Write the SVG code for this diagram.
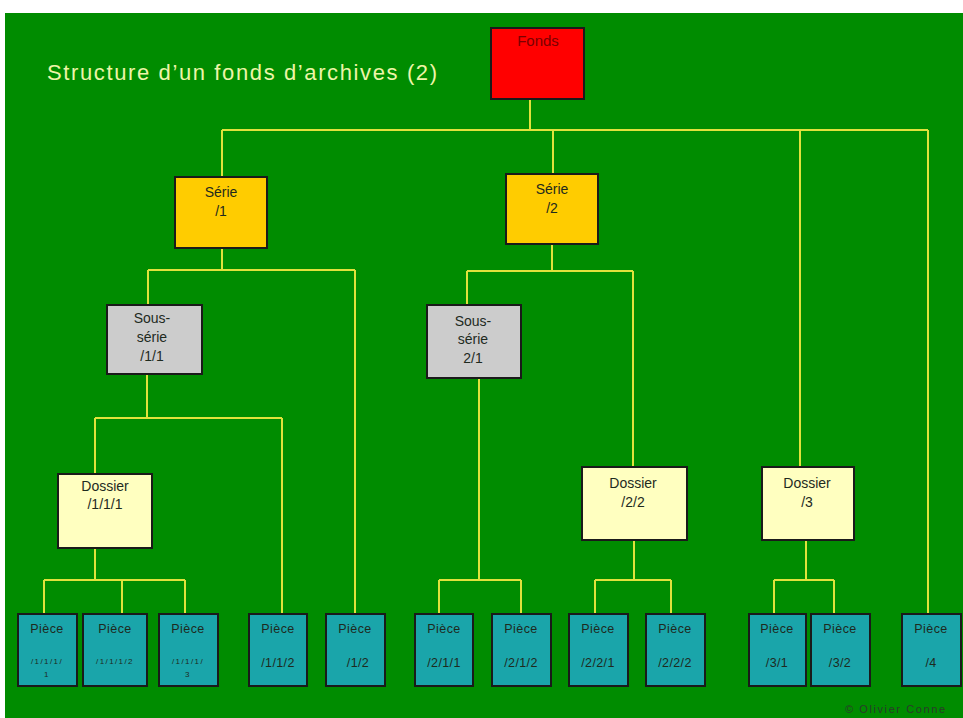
<svg xmlns="http://www.w3.org/2000/svg" width="963" height="718" viewBox="0 0 963 718">
<style>
.t{font-family:"Liberation Sans",Arial,sans-serif;text-anchor:middle;fill:#1e2a1e}
.b{stroke:#1a1a1a;stroke-width:2}
.fonds{fill:#ff0000}
.serie{fill:#ffcc00}
.ss{fill:#cccccc}
.dos{fill:#ffffc0}
.pc{fill:#1aa5aa}
.lbl{font-size:14px}
.pl{font-size:12.5px;letter-spacing:0.4px}
.sm{font-size:8px;letter-spacing:1.4px}
#connectors path{fill:none;stroke:#e0e23c;stroke-width:2}
</style>
<rect x="0" y="0" width="963" height="718" fill="#ffffff"/>
<rect x="5" y="13" width="958" height="705" fill="#008c00"/>
<text x="47" y="80" font-family="Liberation Sans, Arial, sans-serif" font-size="22" fill="#eef5a8" textLength="390" lengthAdjust="spacing">Structure d’un fonds d’archives (2)</text>
<text x="895" y="713" font-family="Liberation Sans, Arial, sans-serif" font-size="11" fill="#2a3a2a" text-anchor="middle" textLength="100" lengthAdjust="spacing">© Olivier Conne</text>
<g id="connectors">
<path d="M530 99V130M222 130H928M222 130V177M553 130V174M800 130V467M928 130V614"/>
<path d="M222 248V270M148 270H355M148 270V305M355 270V614"/>
<path d="M552 244V271M467 271H633M467 271V305M633 271V467"/>
<path d="M147 374V418M95 418H282M95 418V474M282 418V614"/>
<path d="M479 378V580M439 580H521M439 580V614M521 580V614"/>
<path d="M95 548V580M44 580H185M44 580V614M122 580V614M185 580V614"/>
<path d="M634 540V580M595 580H671M595 580V614M671 580V614"/>
<path d="M806 540V580M774 580H834M774 580V614M834 580V614"/>
</g>
<g id="fonds"><rect class="fonds b" x="491" y="28" width="93" height="71"/><text class="t" x="538" y="46" font-size="15" style="fill:#7a0000">Fonds</text></g>
<g id="serie1"><rect class="serie b" x="175" y="177" width="92" height="71"/><text class="t lbl" x="221" y="197">Série</text><text class="t lbl" x="221" y="216">/1</text></g>
<g id="serie2"><rect class="serie b" x="506" y="174" width="92" height="70"/><text class="t lbl" x="552" y="194">Série</text><text class="t lbl" x="552" y="213">/2</text></g>
<g id="ss11"><rect class="ss b" x="107" y="305" width="95" height="69"/><text class="t lbl" x="152" y="323">Sous-</text><text class="t lbl" x="152" y="342">série</text><text class="t lbl" x="152" y="361">/1/1</text></g>
<g id="ss21"><rect class="ss b" x="427" y="305" width="94" height="73"/><text class="t lbl" x="473" y="326">Sous-</text><text class="t lbl" x="473" y="344">série</text><text class="t lbl" x="473" y="363">2/1</text></g>
<g id="dos111"><rect class="dos b" x="58" y="474" width="94" height="74"/><text class="t lbl" x="105" y="491">Dossier</text><text class="t lbl" x="105" y="509">/1/1/1</text></g>
<g id="dos22"><rect class="dos b" x="582" y="467" width="105" height="73"/><text class="t lbl" x="633" y="488">Dossier</text><text class="t lbl" x="633" y="507">/2/2</text></g>
<g id="dos3"><rect class="dos b" x="762" y="467" width="92" height="73"/><text class="t lbl" x="807" y="488">Dossier</text><text class="t lbl" x="807" y="507">/3</text></g>
<g id="p1111"><rect class="pc b" x="18" y="614" width="59" height="72"/><text class="t pl" x="47" y="633">Pièce</text><text class="t sm" x="47" y="664">/1/1/1/</text><text class="t sm" x="47" y="677">1</text></g>
<g id="p1112"><rect class="pc b" x="83" y="614" width="64" height="72"/><text class="t pl" x="115" y="633">Pièce</text><text class="t sm" x="115" y="664">/1/1/1/2</text></g>
<g id="p1113"><rect class="pc b" x="159" y="614" width="59" height="72"/><text class="t pl" x="188" y="633">Pièce</text><text class="t sm" x="188" y="664">/1/1/1/</text><text class="t sm" x="188" y="677">3</text></g>
<g id="p112"><rect class="pc b" x="249" y="614" width="58" height="72"/><text class="t pl" x="278" y="633">Pièce</text><text class="t pl" x="278" y="667">/1/1/2</text></g>
<g id="p12"><rect class="pc b" x="326" y="614" width="59" height="72"/><text class="t pl" x="355" y="633">Pièce</text><text class="t pl" x="358" y="667">/1/2</text></g>
<g id="p211"><rect class="pc b" x="415" y="614" width="58" height="72"/><text class="t pl" x="444" y="633">Pièce</text><text class="t pl" x="444" y="667">/2/1/1</text></g>
<g id="p212"><rect class="pc b" x="492" y="614" width="59" height="72"/><text class="t pl" x="521" y="633">Pièce</text><text class="t pl" x="521" y="667">/2/1/2</text></g>
<g id="p221"><rect class="pc b" x="569" y="614" width="59" height="72"/><text class="t pl" x="598" y="633">Pièce</text><text class="t pl" x="598" y="667">/2/2/1</text></g>
<g id="p222"><rect class="pc b" x="646" y="614" width="59" height="72"/><text class="t pl" x="675" y="633">Pièce</text><text class="t pl" x="675" y="667">/2/2/2</text></g>
<g id="p31"><rect class="pc b" x="749" y="614" width="57" height="72"/><text class="t pl" x="777" y="633">Pièce</text><text class="t pl" x="777" y="667">/3/1</text></g>
<g id="p32"><rect class="pc b" x="811" y="614" width="59" height="72"/><text class="t pl" x="840" y="633">Pièce</text><text class="t pl" x="840" y="667">/3/2</text></g>
<g id="p4"><rect class="pc b" x="902" y="614" width="59" height="72"/><text class="t pl" x="931" y="633">Pièce</text><text class="t pl" x="931" y="667">/4</text></g>
</svg>
